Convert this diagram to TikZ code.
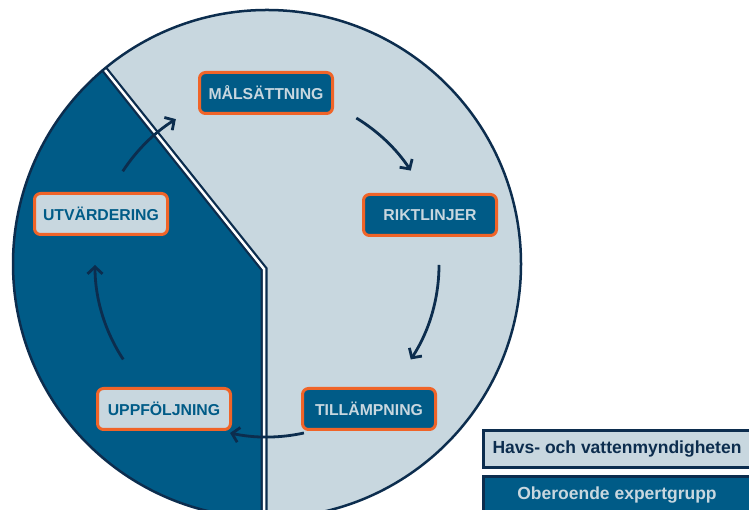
\documentclass[tikz,border=0pt]{standalone}
\usepackage{fontspec}
\setmainfont{Liberation Sans}
\usetikzlibrary{arrows.meta}
\begin{document}
\begin{tikzpicture}[x=1pt, y=1pt,
  phase/.style={draw=rimcolor, line width=3pt, rounded corners=6pt, minimum width=133pt, minimum height=41pt, inner sep=0pt, font=\fontsize{15.8}{18}\selectfont\bfseries},
  agency/.style={phase, fill=deepcolor, text=palecolor},
  expert/.style={phase, fill=palecolor, text=deepcolor},
  flow/.style={navycolor, line width=2.8pt, -{Straight Barb[length=7pt,width=15pt]}},
  legend/.style={draw=navycolor, line width=3pt, minimum width=267pt, minimum height=37pt, inner sep=0pt, font=\fontsize{17.5}{20}\selectfont\bfseries}]
  % Define colors
  \definecolor{deepcolor}{RGB}{0,91,135}
  \definecolor{palecolor}{RGB}{200,215,223}
  \definecolor{navycolor}{RGB}{12,45,78}
  \definecolor{rimcolor}{RGB}{240,100,40}

  % Page frame
  \useasboundingbox (0,0) rectangle (749,510);
  \clip (0,0) rectangle (749,510);

  % Disc split in two parts
  \fill[palecolor] (267,246) circle (254);
  \begin{scope}
    \clip (267,246) circle (254);
    \fill[deepcolor] (57,500) -- (264,241) -- (264,-20) -- (-20,-20) -- (-20,500) -- cycle;
    \draw[navycolor, line width=7pt] (57,500) -- (264,241) -- (264,-20);
    \draw[white, line width=2.5pt] (57,500) -- (264,241) -- (264,-20);
  \end{scope}
  \draw[navycolor, line width=2.5pt] (267,246) circle (254);

  % Phases of the cycle
  \node[agency] (mal) at (266,417) {MÅLSÄTTNING};
  \node[agency] (rikt) at (430,295) {RIKTLINJER};
  \node[agency] (till) at (369,101) {TILLÄMPNING};
  \node[expert] (uppf) at (164,101) {UPPFÖLJNING};
  \node[expert] (utv) at (101,296) {UTVÄRDERING};

  % Arrows round the ring
  \coordinate (hub) at (267,245);
  \foreach \from/\to in {58.7/33.3, 0/-33.3, -77.6/-102.4, -146.7/-180, 147/122} {
    \draw[flow] (hub) ++(\from:172) arc[start angle=\from, end angle=\to, radius=172];
  }

  % Legend
  \node[legend, fill=palecolor, text=navycolor] (hav) at (617,61) {Havs- och vattenmyndigheten};
  \node[legend, fill=deepcolor, text=palecolor] (grupp) at (617,15) {Oberoende expertgrupp};
\end{tikzpicture}
\end{document}
